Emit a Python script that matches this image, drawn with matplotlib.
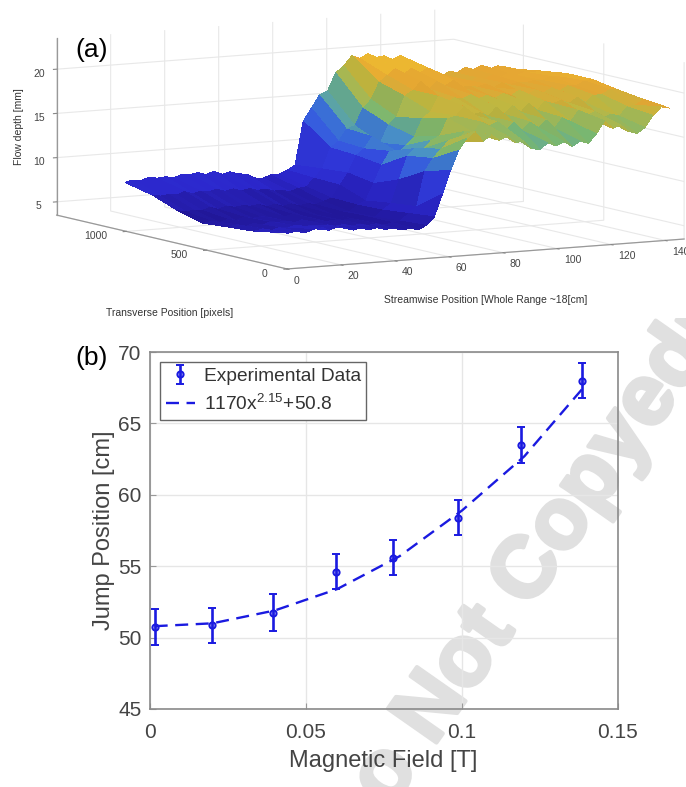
import numpy as np
import matplotlib
matplotlib.use("Agg")
import matplotlib.pyplot as plt
import matplotlib.patheffects as pe
from matplotlib.colors import LinearSegmentedColormap, Normalize, LightSource
from matplotlib.patches import Rectangle

plt.rcParams['font.family'] = ['Liberation Sans', 'DejaVu Sans']
plt.rcParams['mathtext.default'] = 'regular'

# --- panel (a) data
streamwise = list(range(0, 147, 3))
transverse = [42, 202, 361, 520, 680, 839, 1009]
z_y042 = [7.45,7.3,7.5,7.2,7.5,7.7,7.3,7.6,7.4,7.1,7.3,7.0,7.2,6.9,7.0,6.7,6.8,6.6,7.0,7.9,10.4,13.0,15.2,16.5,17.2,16.0,16.7,16.0,16.4,15.6,15.7,14.8,14.6,15.3,14.9,15.3,14.7,15.2,14.9,15.9,17.3,16.4,16.7,15.9,15.6,16.2,17.5,18.4,18.2]
z_y202 = [6.9,7.1,6.8,7.1,7.0,7.2,6.9,7.1,6.9,7.0,6.8,6.9,6.7,6.8,6.6,6.7,6.5,6.7,6.8,7.6,8.3,12.2,13.6,14.6,15.5,15.4,16.4,16.2,17.3,16.8,17.2,16.1,17.0,16.0,16.9,16.2,17.0,16.0,17.1,16.6,17.8,17.1,17.5,16.7,17.1,16.8,17.8,17.9,18.5]
z_y361 = [6.7,6.9,6.6,6.9,6.6,6.9,6.8,6.9,6.6,6.9,6.6,6.7,6.5,6.6,6.5,6.6,6.4,6.7,6.6,7.3,8.0,10.6,13.2,14.0,13.9,14.8,15.2,17.1,17.3,18.3,17.3,17.5,17.0,18.0,17.1,18.0,17.2,18.1,17.3,18.2,17.9,18.2,17.8,18.4,17.7,18.5,18.5,19.0,18.9]
z_y520 = [6.45,6.6,6.4,6.7,6.5,6.8,6.6,6.7,6.6,6.8,6.5,6.7,6.5,6.6,6.4,6.6,6.3,6.6,6.5,7.2,7.6,9.5,11.5,13.0,12.8,13.5,14.4,16.4,17.1,18.8,18.0,18.5,18.3,18.7,18.2,18.5,18.1,18.6,18.3,18.8,18.2,18.7,18.3,18.8,18.4,18.9,18.8,19.3,19.4]
z_y680 = [7.2,7.0,7.1,7.0,7.3,7.0,7.3,7.1,7.2,7.1,7.2,6.9,7.1,6.8,7.0,6.7,6.9,6.7,7.0,7.3,8.7,10.0,11.9,12.6,13.9,13.1,15.1,15.9,18.2,18.8,19.7,18.8,19.6,19.0,19.6,18.7,18.8,18.6,18.9,18.4,18.9,18.6,18.8,18.7,18.9,18.8,19.2,19.1,19.4]
z_y839 = [8.3,8.1,8.2,8.1,8.4,8.1,8.3,8.2,8.4,8.1,8.3,8.0,8.2,7.9,8.0,7.7,7.7,7.5,7.8,7.9,8.8,9.8,12.1,12.8,14.1,14.4,16.3,17.2,19.1,19.8,20.5,19.8,20.4,19.8,20.3,19.4,19.4,18.7,18.8,18.2,18.8,18.5,19.0,18.6,19.0,18.7,19.0,18.9,19.0]
z_y1009 = [9.0,9.2,9.1,9.4,9.2,9.3,9.1,9.4,9.3,9.5,9.2,9.5,9.1,9.3,9.0,8.9,8.4,8.3,8.6,8.6,9.0,9.5,14.4,15.8,17.2,17.6,19.6,20.3,21.4,21.0,21.5,21.0,21.1,20.6,21.0,20.3,20.0,19.2,18.8,18.2,18.8,18.6,19.1,18.8,19.2,18.7,19.0,18.8,18.5]
x_ticks_a = [0, 20, 40, 60, 80, 100, 120, 140]
y_ticks_a = [0, 500, 1000]
z_ticks_a = [5, 10, 15, 20]

# --- panel (b) data
field = [0.0015, 0.02, 0.0395, 0.0595, 0.078, 0.0987, 0.119, 0.1385]
jump = [50.75, 50.85, 51.75, 54.6, 55.6, 58.4, 63.5, 68.0]
jump_err = [1.25, 1.25, 1.27, 1.23, 1.2, 1.25, 1.25, 1.25]
fit_field = [0.0015, 0.02, 0.04, 0.06, 0.08, 0.1, 0.12, 0.1385]
fit_jump = [50.8, 51.0, 51.9, 53.4, 55.7, 58.9, 62.7, 67.4]
x_ticks_b = [0, 0.05, 0.1, 0.15]
x_labels_b = ['0', '0.05', '0.1', '0.15']
y_ticks_b = [45, 50, 55, 60, 65, 70]

W, H = 686, 787
fig = plt.figure(figsize=(W/100, H/100), dpi=100, facecolor='white')

wm = fig.text(529/W, 1-572/H, 'Do Not Copyedit', rotation=55, rotation_mode='anchor',
              ha='center', va='center', fontsize=62, fontweight='bold',
              color='#e0e0e0', zorder=-5)
wm.set_path_effects([pe.withStroke(linewidth=3, foreground='#e0e0e0')])
fig.add_artist(Rectangle((0, 1-318/H), 1, 318/H, transform=fig.transFigure,
                         facecolor='white', edgecolor='none', zorder=-4))

# ---------- panel (a)
ax3 = fig.add_axes([33/W, 311/H, 657/W, 657/H], projection='3d', zorder=1)
ax3.patch.set_alpha(0)
ax3.set_proj_type('ortho')
ax3.view_init(elev=7.63, azim=-119.6)
ax3.set_box_aspect((457, 467, 178.6), zoom=1)
ax3.set_xlim(0, 147); ax3.set_ylim(0, 1434); ax3.set_zlim(3.5, 23.5)

parula_like = LinearSegmentedColormap.from_list('p', [
    (0.00, (0.13, 0.09, 0.60)), (0.10, (0.17, 0.15, 0.80)), (0.30, (0.20, 0.25, 0.90)),
    (0.42, (0.22, 0.42, 0.86)), (0.49, (0.30, 0.60, 0.76)), (0.57, (0.47, 0.72, 0.45)),
    (0.72, (0.76, 0.72, 0.25)), (0.82, (0.90, 0.65, 0.20)), (1.00, (0.96, 0.80, 0.18))])
norm = Normalize(6.4, 21.3)

X, Y = np.meshgrid(streamwise, transverse)
Z = np.array([z_y042, z_y202, z_y361, z_y520, z_y680, z_y839, z_y1009])
ax3.plot_surface(X, Y, Z, facecolors=parula_like(norm(Z)), rstride=1, cstride=1,
                 linewidth=0, antialiased=False, shade=True,
                 lightsource=LightSource(azdeg=250, altdeg=80))

for axis in (ax3.xaxis, ax3.yaxis, ax3.zaxis):
    axis.set_pane_color((1, 1, 1, 0))
    axis.pane.set_edgecolor((1, 1, 1, 0))
    axis._axinfo['grid'].update(color=(0.91, 0.91, 0.91), linewidth=0.8)
    axis._axinfo['tick'].update(inward_factor=0.1, outward_factor=0.0)
    axis.line.set_color((0.6, 0.6, 0.6)); axis.line.set_linewidth(0.9)
ax3.set_xticks(x_ticks_a); ax3.set_yticks(y_ticks_a); ax3.set_zticks(z_ticks_a)
ax3.tick_params(labelsize=7.5, labelcolor='#444444', color='#888888', pad=-1)
ax3.xaxis.set_tick_params(pad=-1)
ax3.yaxis.set_tick_params(pad=4)
for t in ax3.get_xticklabels():
    t.set_ha('left')
for t in ax3.get_yticklabels():
    t.set_ha('right'); t.set_va('bottom')

fig.text(19/W, 1-127/H, 'Flow depth [mm]', rotation=90, ha='center', va='center', fontsize=7.5, color='#333333')
fig.text(170/W, 1-313/H, 'Transverse Position [pixels]', ha='center', va='center', fontsize=7.5, color='#333333')
fig.text(486/W, 1-300/H, 'Streamwise Position [Whole Range ~18[cm]', ha='center', va='center', fontsize=7.5, color='#333333')
fig.text(92/W, 1-50/H, '(a)', ha='center', va='center', fontsize=19, color='black')
fig.text(92/W, 1-358/H, '(b)', ha='center', va='center', fontsize=19, color='black')

# ---------- panel (b)
ax = fig.add_axes([150/W, 1-709/H, 468/W, 357/H], zorder=2)
ax.patch.set_alpha(0)
blue = (0.10, 0.10, 0.88)
ax.set_xlim(0, 0.15); ax.set_ylim(45, 70)
ax.plot(fit_field, fit_jump, color=blue, lw=1.7, dashes=(5.5, 3.2), label='1170x$^{2.15}$+50.8')
eb = ax.errorbar(field, jump, yerr=jump_err, fmt='o', ms=4.5, mfc=(0.1, 0.1, 0.88, 0.35), mec=blue,
                 mew=1.4, ecolor=blue, elinewidth=1.9, capsize=2.7, capthick=1.5,
                 label='Experimental Data', clip_on=False)
ax.set_xticks(x_ticks_b, x_labels_b); ax.set_yticks(y_ticks_b)
ax.grid(True, color='#e6e6e6', lw=1.0); ax.set_axisbelow(True)
ax.tick_params(direction='in', length=4, width=0.8, color='#999999', labelsize=15, labelcolor='#444444', pad=6)
ax.tick_params(axis='x', pad=10)
for s in ax.spines.values():
    s.set_color('#8a8a8a'); s.set_linewidth(1.2)
ax.set_xlabel('Magnetic Field [T]', fontsize=17, color='#444444')
ax.set_ylabel('Jump Position [cm]', fontsize=17, color='#444444')
ax.xaxis.set_label_coords((383-150)/468, -(750-709)/357, transform=ax.transAxes)
ax.yaxis.set_label_coords(-(150-115)/468, (709-530)/357, transform=ax.transAxes)
h, l = ax.get_legend_handles_labels()
leg = ax.legend([h[1], h[0]], [l[1], l[0]], loc='upper left', bbox_to_anchor=((160-150)/468, 1-(362-352)/357),
                borderaxespad=0, fontsize=13.8, fancybox=False, framealpha=1, edgecolor='#666666',
                labelspacing=0.45, handlelength=1.5, borderpad=0.3, handletextpad=0.47)
for t in leg.get_texts():
    t.set_color('#333333')
leg.get_frame().set_linewidth(1.0)

fig.savefig('out.png', dpi=100)
